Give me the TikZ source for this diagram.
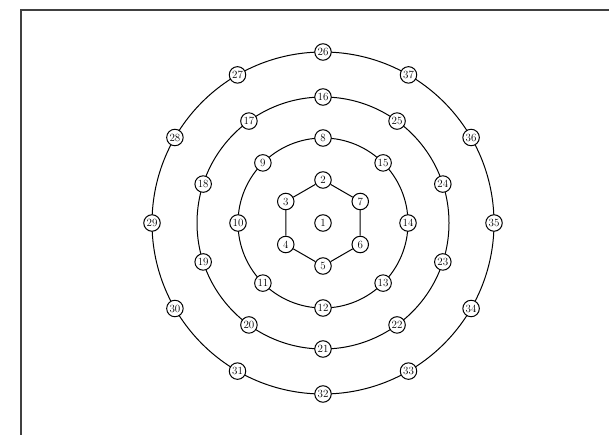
\documentclass[tikz,border=0pt]{standalone}
\begin{document}
\begin{tikzpicture}[x=1pt, y=1pt,
    shell/.style={draw, line width=1pt},
    atom/.style={circle, draw, fill=white, line width=1pt, minimum size=16.5pt, inner sep=0pt, font=\fontsize{11}{11}\selectfont}]
    \useasboundingbox (0,0) rectangle (609,-435);

    % Draw the frame
    \draw[line width=1.2pt, black!75] (21,-435) -- (21,-10) -- (609,-10);

    \begin{scope}[shift={(323,-223)}]
    % Draw the centre and the hexagon
    \node[atom] (n1) at (0,0) {1};
    \foreach \i in {0,...,5} {
        \pgfmathtruncatemacro\lab{2+\i}
        \node[atom] (n\lab) at (90+60*\i:43) {\lab};
    }
    \draw[shell] (n2) -- (n3) -- (n4) -- (n5) -- (n6) -- (n7) -- (n2);

    % Draw the outer rings
    \foreach \start/\count/\rad in {8/8/85, 16/10/126, 26/12/171} {
        \draw[shell] (0,0) circle (\rad pt);
        \foreach \i in {1,...,\count} {
            \pgfmathtruncatemacro\lab{\start+\i-1}
            \pgfmathsetmacro\ang{90+360/\count*(\i-1)}
            \node[atom] (n\lab) at (\ang:\rad) {\lab};
        }
    }
    \end{scope}
\end{tikzpicture}
\end{document}
